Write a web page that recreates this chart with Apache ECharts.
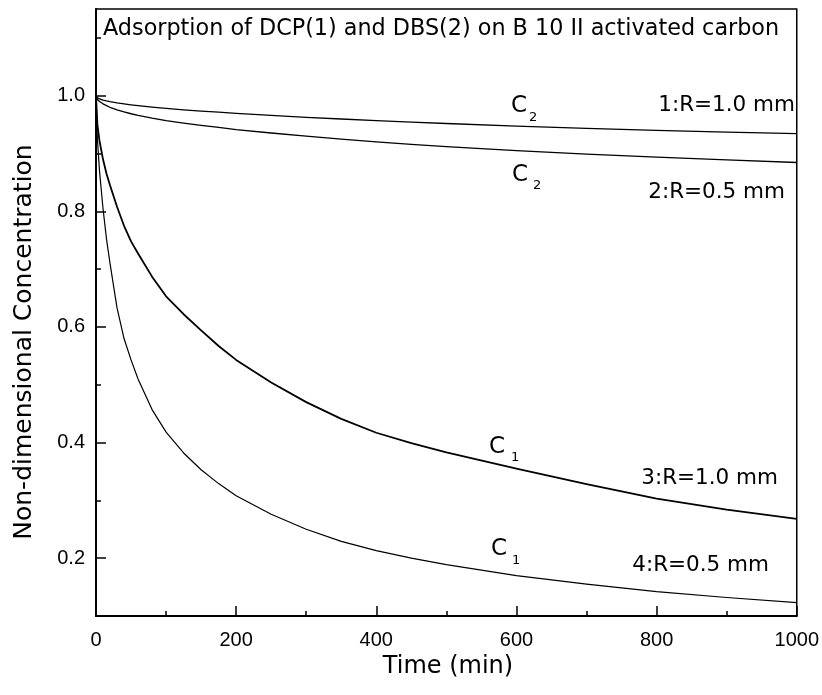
<!DOCTYPE html>
<html>
<head>
<meta charset="utf-8">
<script src="https://cdn.jsdelivr.net/npm/echarts@6/dist/echarts.min.js"></script>
<style>html,body{margin:0;padding:0;background:#fff}#c{width:822px;height:695px}</style>
</head>
<body>
<div id="c"></div>
<script>
// ---- data ----
const TIME = [0, 2, 5, 10, 15, 20, 30, 40, 50, 60, 80, 100, 125, 150, 175, 200, 250, 300, 350, 400, 450, 500, 600, 700, 800, 900, 1000];
// 1: C2, R=1.0 mm (DBS)
const C2_R10 = [1.0, 0.9965, 0.9945, 0.9925, 0.9910, 0.9897, 0.9876, 0.9858, 0.9842, 0.9828, 0.9803, 0.9780, 0.9756, 0.9735, 0.9715, 0.9696, 0.9660, 0.9627, 0.9597, 0.9569, 0.9543, 0.9519, 0.9475, 0.9435, 0.9400, 0.9370, 0.9345];
// 2: C2, R=0.5 mm (DBS)
const C2_R05 = [1.0, 0.9935, 0.9900, 0.9860, 0.9828, 0.9800, 0.9756, 0.9720, 0.9688, 0.9660, 0.9612, 0.9570, 0.9526, 0.9487, 0.9452, 0.9415, 0.9355, 0.9300, 0.9250, 0.9203, 0.9160, 0.9120, 0.9050, 0.8990, 0.8938, 0.8890, 0.8845];
// 3: C1, R=1.0 mm (DCP)
const C1_R10 = [1.0, 0.950, 0.922, 0.890, 0.865, 0.845, 0.808, 0.775, 0.748, 0.727, 0.687, 0.653, 0.622, 0.594, 0.567, 0.543, 0.504, 0.470, 0.441, 0.417, 0.399, 0.383, 0.355, 0.328, 0.303, 0.284, 0.268];
// 4: C1, R=0.5 mm (DCP)
const C1_R05 = [1.0, 0.925, 0.870, 0.805, 0.752, 0.710, 0.633, 0.580, 0.543, 0.510, 0.457, 0.418, 0.382, 0.353, 0.329, 0.308, 0.276, 0.250, 0.229, 0.213, 0.200, 0.189, 0.170, 0.155, 0.142, 0.132, 0.123];

const Y_LABELS = [0.2, 0.4, 0.6, 0.8, 1.0];
const Y_MINOR = [0.1, 0.3, 0.5, 0.7, 0.9, 1.1];

const TITLE = 'Adsorption of DCP(1) and DBS(2) on B 10 II activated carbon';
const X_NAME = 'Time (min)';
const Y_NAME = 'Non-dimensional Concentration';
const CURVE_LABELS = ['1:R=1.0 mm', '2:R=0.5 mm', '3:R=1.0 mm', '4:R=0.5 mm'];

function pairs(ys) { return TIME.map((t, i) => [t, ys[i]]); }

const BIG = 'DejaVu Sans';
const TICK = 'Liberation Sans';

function txt(x, y, s, size, align, font) {
  return { type: 'text', x: x, y: y, silent: true,
    style: { text: s, fill: '#000', font: size + 'px "' + (font || BIG) + '"', textAlign: align || 'left', textVerticalAlign: 'middle' } };
}

const chart = echarts.init(document.getElementById('c'), null, { renderer: 'canvas' });
const lineSeries = (data, w) => ({
  type: 'line', data: pairs(data), showSymbol: false, symbol: 'none',
  smooth: false,
  lineStyle: { color: '#000', width: w, join: 'round' }, z: 3, animation: false
});

chart.setOption({
  animation: false,
  backgroundColor: '#fff',
  grid: { left: 96, right: 22, top: 9, bottom: 79, show: true, borderColor: '#000', borderWidth: 1.5, backgroundColor: 'transparent' },
  xAxis: {
    type: 'value', min: 0, max: 1000, interval: 200,
    axisLine: { show: true, lineStyle: { color: '#000', width: 2 } },
    axisTick: { show: true, inside: true, length: 10, lineStyle: { color: '#000', width: 1.5 } },
    minorTick: { show: true, splitNumber: 2, length: 5, lineStyle: { color: '#000', width: 1.5 } },
    axisLabel: { color: '#000', fontSize: 20, fontFamily: TICK, margin: 14, formatter: v => String(v) },
    splitLine: { show: false }
  },
  yAxis: [{
    type: 'value', min: 0.1, max: 1.15,
    axisLine: { show: true, lineStyle: { color: '#000', width: 2 } },
    axisTick: { show: true, inside: true, length: 10, customValues: Y_LABELS, lineStyle: { color: '#000', width: 1.5 } },
    axisLabel: { color: '#000', fontSize: 20, fontFamily: TICK, margin: 11, customValues: Y_LABELS, formatter: v => v.toFixed(1) },
    splitLine: { show: false }
  }, {
    type: 'value', min: 0.1, max: 1.15, position: 'left', gridIndex: 0,
    axisLine: { show: false },
    axisTick: { show: true, inside: true, length: 5, customValues: Y_MINOR, lineStyle: { color: '#000', width: 1.5 } },
    axisLabel: { show: false },
    splitLine: { show: false }
  }],
  series: [
    lineSeries(C2_R10, 1.3),
    lineSeries(C2_R05, 1.3),
    lineSeries(C1_R10, 1.8),
    lineSeries(C1_R05, 1.2)
  ],
  graphic: [
    txt(103, 29, TITLE, 22.3),
    txt(795, 105, CURVE_LABELS[0], 21.5, 'right'),
    txt(785, 192, CURVE_LABELS[1], 21.5, 'right'),
    txt(778, 478, CURVE_LABELS[2], 21.5, 'right'),
    txt(769, 565, CURVE_LABELS[3], 21.5, 'right'),
    txt(511, 106, 'C', 23), txt(529, 118, '2', 13),
    txt(512, 175, 'C', 23), txt(533, 186, '2', 13),
    txt(489, 447, 'C', 23), txt(511, 458, '1', 13),
    txt(491, 549, 'C', 23), txt(512, 561, '1', 13),
    txt(448, 667, X_NAME, 24, 'center'),
    { type: 'text', x: 24, y: 342, rotation: Math.PI / 2, silent: true,
      style: { text: Y_NAME, fill: '#000', font: '25px "' + BIG + '"', textAlign: 'center', textVerticalAlign: 'middle' } }
  ]
});
</script>
</body>
</html>
